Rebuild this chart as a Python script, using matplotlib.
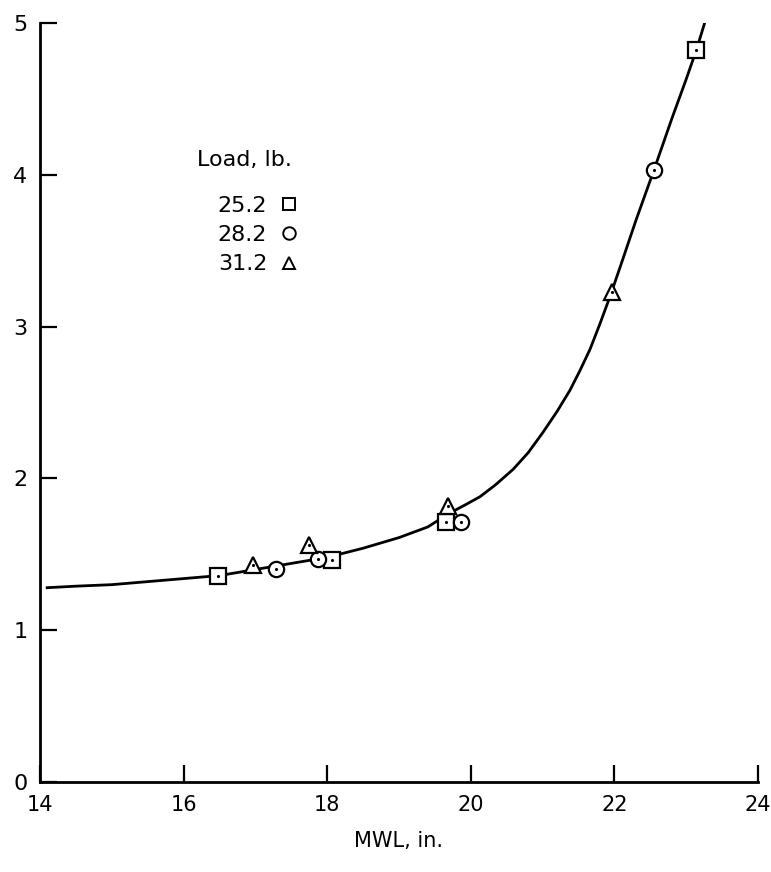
import matplotlib
matplotlib.use("Agg")
import matplotlib.pyplot as plt
from matplotlib.lines import Line2D

# measured points, per load
sq_x = [16.48, 18.07, 19.66, 23.14]
sq_y = [1.36, 1.46, 1.71, 4.82]
ci_x = [17.29, 17.87, 19.86, 22.55]
ci_y = [1.40, 1.47, 1.71, 4.03]
tr_x = [16.97, 17.75, 19.68, 21.97]
tr_y = [1.43, 1.56, 1.82, 3.23]

# faired curve
curve_x = [14.1, 14.5, 15.0, 15.5, 16.0, 16.5, 17.0, 17.5, 18.0, 18.5, 19.0,
           19.4, 19.7, 19.9, 20.13, 20.35, 20.59, 20.8, 21.0, 21.2, 21.38,
           21.52, 21.66, 21.8, 21.94, 22.1, 22.3, 22.55, 22.8, 23.0, 23.14,
           23.27]
curve_y = [1.28, 1.29, 1.30, 1.32, 1.34, 1.36, 1.40, 1.44, 1.48, 1.54, 1.61,
           1.68, 1.77, 1.82, 1.88, 1.96, 2.06, 2.17, 2.30, 2.44, 2.58,
           2.71, 2.85, 3.02, 3.20, 3.42, 3.70, 4.03, 4.37, 4.63, 4.82,
           5.02]

loads = ["25.2", "28.2", "31.2"]

fig = plt.figure(figsize=(7.71, 8.72), dpi=100)
ax = fig.add_axes([40 / 771, 90 / 872, 718 / 771, 759 / 872])

ax.plot(curve_x, curve_y, color="black", lw=2, solid_joinstyle="round")

mk = dict(mfc="white", mec="black", mew=1.6, ls="none", ms=11, zorder=3)
ax.plot(sq_x, sq_y, marker="s", **mk)
ax.plot(ci_x, ci_y, marker="o", **mk)
ax.plot(tr_x, tr_y, marker="^", **mk)
ax.plot(sq_x + ci_x + tr_x, sq_y + ci_y + tr_y, "k.", ms=2.5, zorder=4)

# key
ax.text(0.219, 0.82, "Load, lb.", transform=ax.transAxes, fontsize=16,
        va="center", ha="left")
handles = [Line2D([], [], marker=m, mfc="white", mec="black", mew=1.4,
                  ls="none", ms=9) for m in ["s", "o", "^"]]
ax.legend(handles, loads, loc="upper left", bbox_to_anchor=(0.232, 0.787),
          frameon=False, markerfirst=False, fontsize=16, handletextpad=0.5,
          labelspacing=0.42, handlelength=1.0, borderpad=0)

ax.set_xlim(14, 24)
ax.set_ylim(0, 5)
ax.set_xticks([14, 16, 18, 20, 22, 24])
ax.set_yticks([0, 1, 2, 3, 4, 5])
ax.tick_params(direction="in", length=12, width=1.6, labelsize=15, pad=9)
ax.tick_params(axis="y", labelsize=16, pad=9)
for s in ["top", "right"]:
    ax.spines[s].set_visible(False)
for s in ["left", "bottom"]:
    ax.spines[s].set_linewidth(2)
ax.set_xlabel("MWL, in.", fontsize=15, labelpad=12)

fig.savefig("out.png", dpi=100)
